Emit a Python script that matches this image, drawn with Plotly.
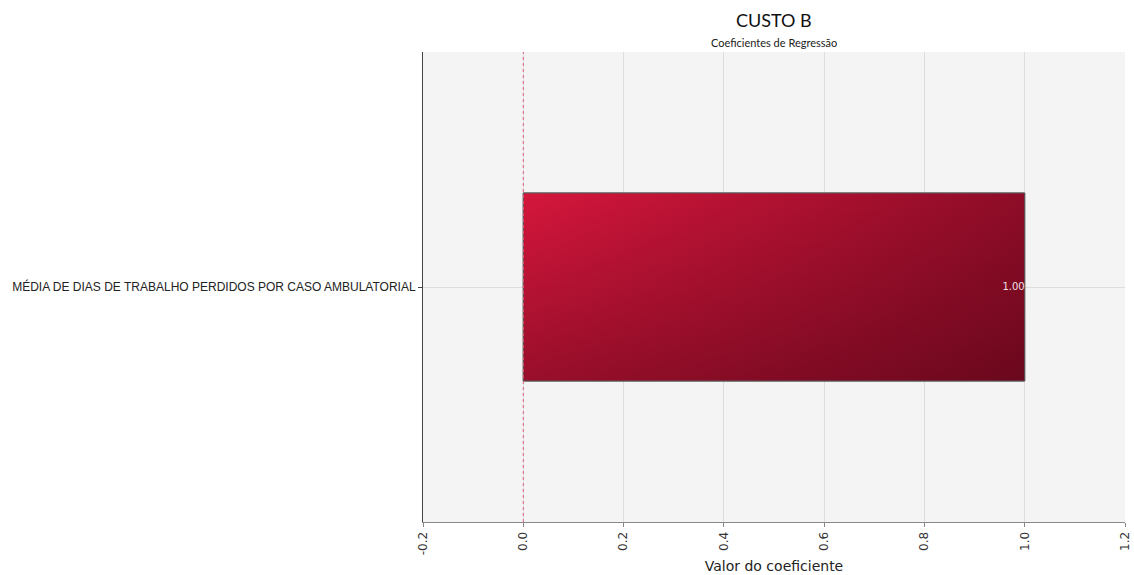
import plotly.graph_objects as go

categories = ["MÉDIA DE DIAS DE TRABALHO PERDIDOS POR CASO AMBULATORIAL"]
values = [1.00]
x_ticks = [-0.2, 0.0, 0.2, 0.4, 0.6, 0.8, 1.0, 1.2]

BAR_W = 0.4
fig = go.Figure()

# base bar (library draws it)
fig.add_trace(go.Bar(
    x=values, y=list(range(len(categories))), orientation="h", width=BAR_W,
    marker=dict(color="#A4102E", line=dict(color="#5a5a5a", width=1)),
    hoverinfo="x", showlegend=False))

# gradient overlays, derived from the data values
for i, v in enumerate(values):
    xs = [0, v, v, 0, 0]
    ys = [i - BAR_W / 2, i - BAR_W / 2, i + BAR_W / 2, i + BAR_W / 2, i - BAR_W / 2]
    fig.add_trace(go.Scatter(
        x=xs, y=ys, mode="lines", fill="toself",
        line=dict(color="rgba(0,0,0,0)", width=0),
        fillgradient=dict(type="horizontal",
                          colorscale=[[0, "#D5163C"], [1, "#8E0C27"]]),
        hoverinfo="skip", showlegend=False))
    fig.add_trace(go.Scatter(
        x=xs, y=ys, mode="lines", fill="toself",
        line=dict(color="#5a5a5a", width=1),
        fillgradient=dict(type="vertical",
                          colorscale=[[0, "rgba(40,0,10,0.35)"], [1, "rgba(40,0,10,0)"]]),
        hoverinfo="skip", showlegend=False))

fig.add_trace(go.Scatter(
    x=values, y=list(range(len(categories))), mode="text",
    text=[f"{v:.2f}" for v in values], textposition="middle left",
    textfont=dict(family="DejaVu Sans", size=10, color="#F0E0E4"),
    hoverinfo="skip", showlegend=False))

fig.add_vline(x=0, line=dict(color="#E0607E", width=1, dash="dot"))

fig.update_layout(
    width=1134, height=575,
    margin=dict(l=423, r=9, t=52, b=53, autoexpand=False),
    paper_bgcolor="white", plot_bgcolor="#F4F4F4",
    font=dict(family="DejaVu Sans", color="#333333"),
    annotations=[
        dict(text="CUSTO B", x=0.5, y=1, xref="paper", yref="paper",
             yshift=32, showarrow=False, xanchor="center", yanchor="middle",
             font=dict(family="Lato", size=18, color="#111111")),
        dict(text="Coeficientes de Regressão", x=0.5, y=1, xref="paper", yref="paper",
             yshift=10, showarrow=False, xanchor="center", yanchor="middle",
             font=dict(family="Lato", size=11, color="#222222")),
    ],
)
fig.update_xaxes(
    range=[-0.2, 1.2], tickvals=x_ticks, ticktext=[f"{t:.1f}" for t in x_ticks],
    tickangle=-90, tickfont=dict(family="DejaVu Sans", size=12, color="#333"),
    ticklabeloverflow="allow", automargin=False,
    showgrid=True, gridcolor="#DDDDDD", zeroline=False,
    showline=True, linecolor="#888888", ticks="outside", ticklen=4, tickcolor="#888888",
    title=dict(text="Valor do coeficiente", font=dict(family="DejaVu Sans", size=14, color="#222"),
               standoff=6))
fig.update_yaxes(
    range=[-0.5, len(categories) - 0.5], tickvals=list(range(len(categories))),
    ticktext=categories, tickfont=dict(family="Liberation Sans", size=12, color="#222"),
    automargin=False,
    showgrid=True, gridcolor="#DDDDDD", zeroline=False,
    showline=True, linecolor="#444444", ticks="outside", ticklen=4, tickcolor="#444444")

fig.write_html("out.html")
